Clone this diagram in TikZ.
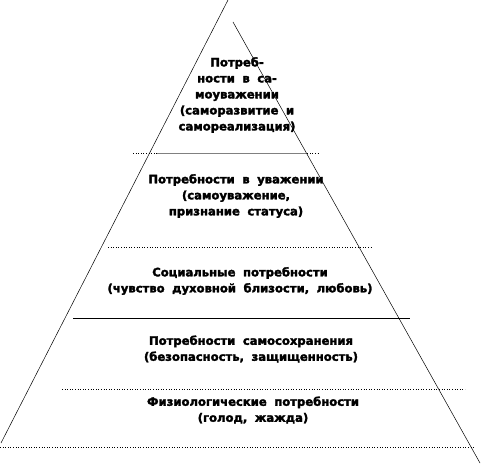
\documentclass[tikz,border=0pt]{standalone}
\usepackage{fontspec}
\setmainfont{DejaVu Sans}
\newfontfamily\heavyfont{DejaVu Sans Bold}[FakeBold=2.5]
\usetikzlibrary{positioning}
\newcommand\needfont{\heavyfont\fontsize{11.6}{16}\selectfont\spaceskip 0.65em plus 0.1em\relax}
\tikzset{
  side/.style={draw, line width=0.5pt},
  level/.style={draw, dotted, line width=0.6pt},
  levelsolid/.style={draw, line width=0.7pt},
  need/.style={align=center, font=\needfont, inner sep=0pt}
}
\begin{document}
\begin{tikzpicture}[x=1pt, y=-1pt]
  \useasboundingbox (0,0) rectangle (482,465);
  % sides of the pyramid
  \draw[side] (228,0) -- (1,443);
  \draw[side] (233,22) -- (480,463);
  % levels
  \draw[level] (133,153) -- (318,153);
  \draw[levelsolid, gray] (157,153) -- (306,153);
  \draw[level] (108,247) -- (372,247);
  \draw[levelsolid] (73,318) -- (410,318);
  \draw[level] (62,389) -- (465,389);
  \draw[level] (0,447) -- (475,447);
  % texts
  \node[need] (self) at (237,95) {Потреб-\\ности в са-\\моуважении\\(саморазвитие и\\самореализация)};
  \node[need] (esteem) at (236,196) {Потребности в уважении\\(самоуважение,\\признание статуса)};
  \node[need] (social) at (240,281) {Социальные потребности\\(чувство духовной близости, любовь)};
  \node[need] (safety) at (251,349) {Потребности самосохранения\\(безопасность, защищенность)};
  \node[need] (phys) at (253,410) {Физиологические потребности\\(голод, жажда)};
\end{tikzpicture}
\end{document}
